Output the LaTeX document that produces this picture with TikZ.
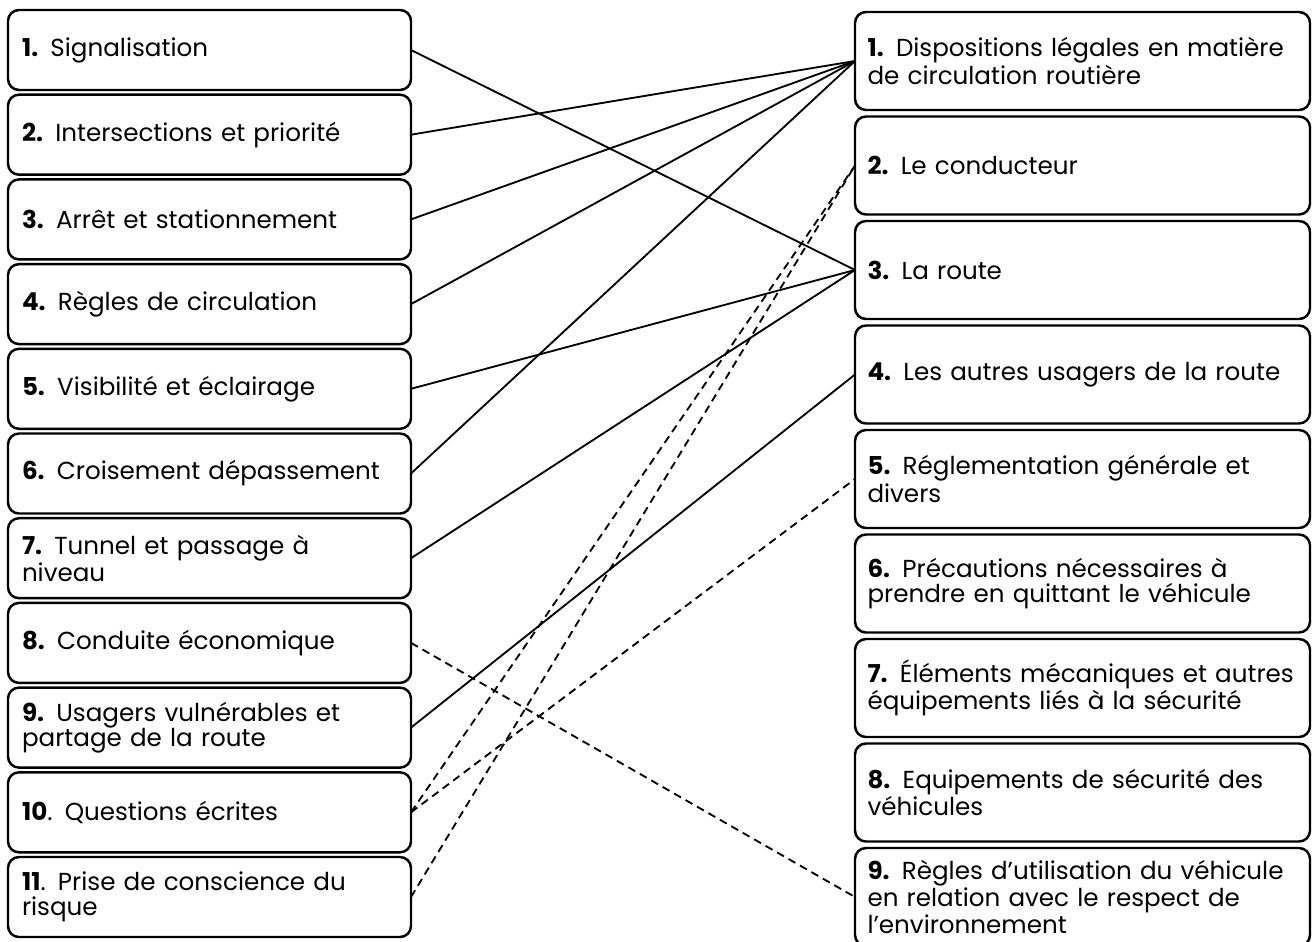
\documentclass[tikz,border=0pt]{standalone}
\usepackage{fontspec}
\setmainfont{Poppins}
\usetikzlibrary{positioning}

\begin{document}
\begin{tikzpicture}[
    theme/.style={draw, line width=1.4pt, rounded corners=0.22cm, align=left, outer sep=0pt,
      font=\fontsize{14pt}{14.2pt}\selectfont},
    leftbox/.style={theme, minimum width=8.06cm, minimum height=1.6cm, text width=7.5cm, inner xsep=0.28cm},
    rightbox/.style={theme, minimum width=9.1cm, minimum height=1.96cm, text width=8.6cm, inner xsep=0.25cm},
    link/.style={line width=1.05pt},
    dashlink/.style={line width=1.05pt, dash pattern=on 4.5pt off 3pt}
  ]
  \useasboundingbox (0,0) rectangle (26.24,-18.82);

  % themes
  \node [leftbox] (l1) at (4.19,-1.0) {\textbf{1.} Signalisation};
  \node [leftbox] [below=0.094cm of l1] (l2) {\textbf{2.} Intersections et priorité};
  \node [leftbox] [below=0.094cm of l2] (l3) {\textbf{3.} Arrêt et stationnement};
  \node [leftbox] [below=0.094cm of l3] (l4) {\textbf{4.} Règles de circulation};
  \node [leftbox] [below=0.094cm of l4] (l5) {\textbf{5.} Visibilité et éclairage};
  \node [leftbox] [below=0.094cm of l5] (l6) {\textbf{6.} Croisement dépassement};
  \node [leftbox] [below=0.094cm of l6] (l7) {\textbf{7.} Tunnel et passage à\\niveau};
  \node [leftbox] [below=0.094cm of l7] (l8) {\textbf{8.} Conduite économique};
  \node [leftbox] [below=0.094cm of l8] (l9) {\textbf{9.} Usagers vulnérables et\\partage de la route};
  \node [leftbox] [below=0.094cm of l9] (l10) {\textbf{10}. Questions écrites};
  \node [leftbox] [below=0.094cm of l10] (l11) {\textbf{11}. Prise de conscience du\\risque};

  % chapters
  \node [rightbox] (r1) at (21.65,-1.22) {\textbf{1.} Dispositions légales en matière\\de circulation routière};
  \node [rightbox] [below=0.13cm of r1] (r2) {\textbf{2.} Le conducteur};
  \node [rightbox] [below=0.13cm of r2] (r3) {\textbf{3.} La route};
  \node [rightbox] [below=0.13cm of r3] (r4) {\textbf{4.} Les autres usagers de la route};
  \node [rightbox] [below=0.13cm of r4] (r5) {\textbf{5.} Réglementation générale et\\divers};
  \node [rightbox] [below=0.13cm of r5] (r6) {\textbf{6.} Précautions nécessaires à\\prendre en quittant le véhicule};
  \node [rightbox] [below=0.13cm of r6] (r7) {\textbf{7.} Éléments mécaniques et autres\\équipements liés à la sécurité};
  \node [rightbox] [below=0.13cm of r7] (r8) {\textbf{8.} Equipements de sécurité des\\véhicules};
  \node [rightbox] [below=0.13cm of r8] (r9) {\textbf{9.} Règles d’utilisation du véhicule\\en relation avec le respect de\\l’environnement};

  \path[link]
    (l1.east) edge (r3.west)
    (l2.east) edge (r1.west)
    (l3.east) edge (r1.west)
    (l4.east) edge (r1.west)
    (l5.east) edge (r3.west)
    (l6.east) edge (r1.west)
    (l7.east) edge (r3.west)
    (l9.east) edge (r4.west);
  \path[dashlink]
    (l8.east) edge (r9.west)
    (l10.east) edge (r2.west)
    (l10.east) edge (r5.west)
    (l11.east) edge (r2.west);
\end{tikzpicture}
\end{document}
